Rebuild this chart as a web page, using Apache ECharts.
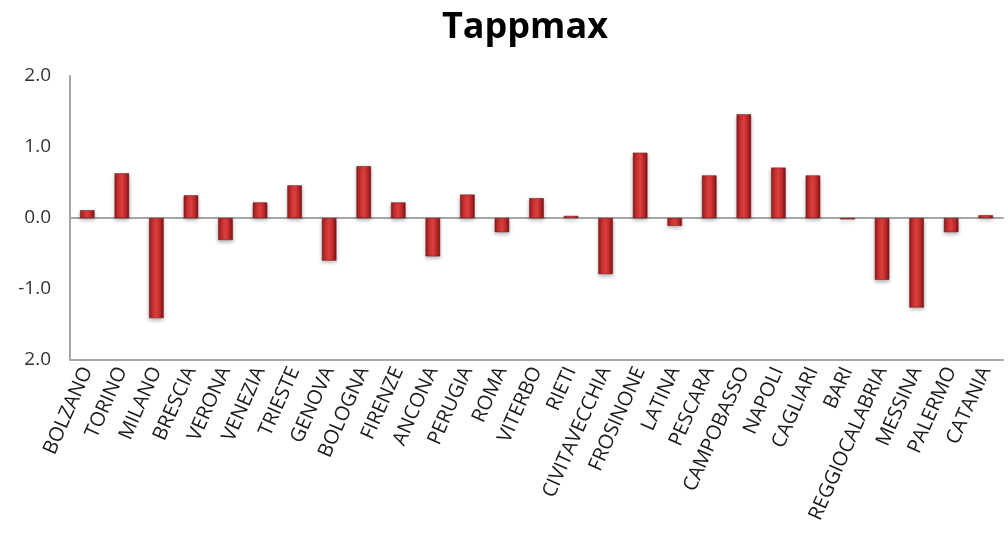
<!DOCTYPE html>
<html><head><meta charset="utf-8">
<script src="https://cdn.jsdelivr.net/npm/echarts@6/dist/echarts.min.js"></script>
<style>html,body{margin:0;padding:0;background:#fff}#c{width:1008px;height:540px}</style>
</head><body><div id="c"></div>
<script>
const categories = ['BOLZANO','TORINO','MILANO','BRESCIA','VERONA','VENEZIA','TRIESTE','GENOVA','BOLOGNA','FIRENZE','ANCONA','PERUGIA','ROMA','VITERBO','RIETI','CIVITAVECCHIA','FROSINONE','LATINA','PESCARA','CAMPOBASSO','NAPOLI','CAGLIARI','BARI','REGGIOCALABRIA','MESSINA','PALERMO','CATANIA'];
const values = [0.11,0.63,-1.41,0.32,-0.31,0.22,0.46,-0.60,0.73,0.22,-0.54,0.33,-0.20,0.28,0.03,-0.79,0.92,-0.11,0.60,1.46,0.71,0.60,-0.02,-0.87,-1.26,-0.20,0.04];
const yTickLabels = {'-2':'2.0','-1':'-1.0','0':'0.0','1':'1.0','2':'2.0'};
const title = 'Tappmax';

const chart = echarts.init(document.getElementById('c'));
const barColor = new echarts.graphic.LinearGradient(0,0,1,0,[
  {offset:0,color:'#8e1a1c'},{offset:0.25,color:'#c8302f'},{offset:0.5,color:'#dc403e'},{offset:0.75,color:'#c02a2b'},{offset:1,color:'#7a1416'}]);
chart.setOption({
  animation:false,
  title:{text:title,left:520,top:5,textAlign:'center',textStyle:{fontFamily:'Open Sans',fontWeight:'bold',fontSize:36,color:'#000'}},
  grid:{left:70,right:5,top:76,bottom:180},
  xAxis:[{type:'category',data:categories,position:'bottom',
    axisLine:{onZero:false,lineStyle:{color:'#a6a6a6',width:2}},axisTick:{show:false},
    axisLabel:{interval:0,rotate:66,fontFamily:'Open Sans',fontSize:20,color:'#1a1a1a',margin:8}},
   {type:'category',data:categories,position:'top',axisLine:{show:true,lineStyle:{color:'#a6a6a6',width:2}},axisTick:{show:false},axisLabel:{show:false}}],
  yAxis:{type:'value',min:-2,max:2,interval:1,
    axisLine:{show:true,lineStyle:{color:'#a6a6a6',width:2}},axisTick:{show:false},splitLine:{show:false},
    axisLabel:{fontFamily:'Open Sans',fontSize:19,color:'#333',margin:19,formatter:v=>yTickLabels[String(v)]}},
  series:[{type:'bar',data:values,barWidth:'42%',
    itemStyle:{color:barColor,borderColor:'#6e1214',borderWidth:0.5,shadowColor:'rgba(0,0,0,0.3)',shadowBlur:4,shadowOffsetY:2}}]
});
</script></body></html>
